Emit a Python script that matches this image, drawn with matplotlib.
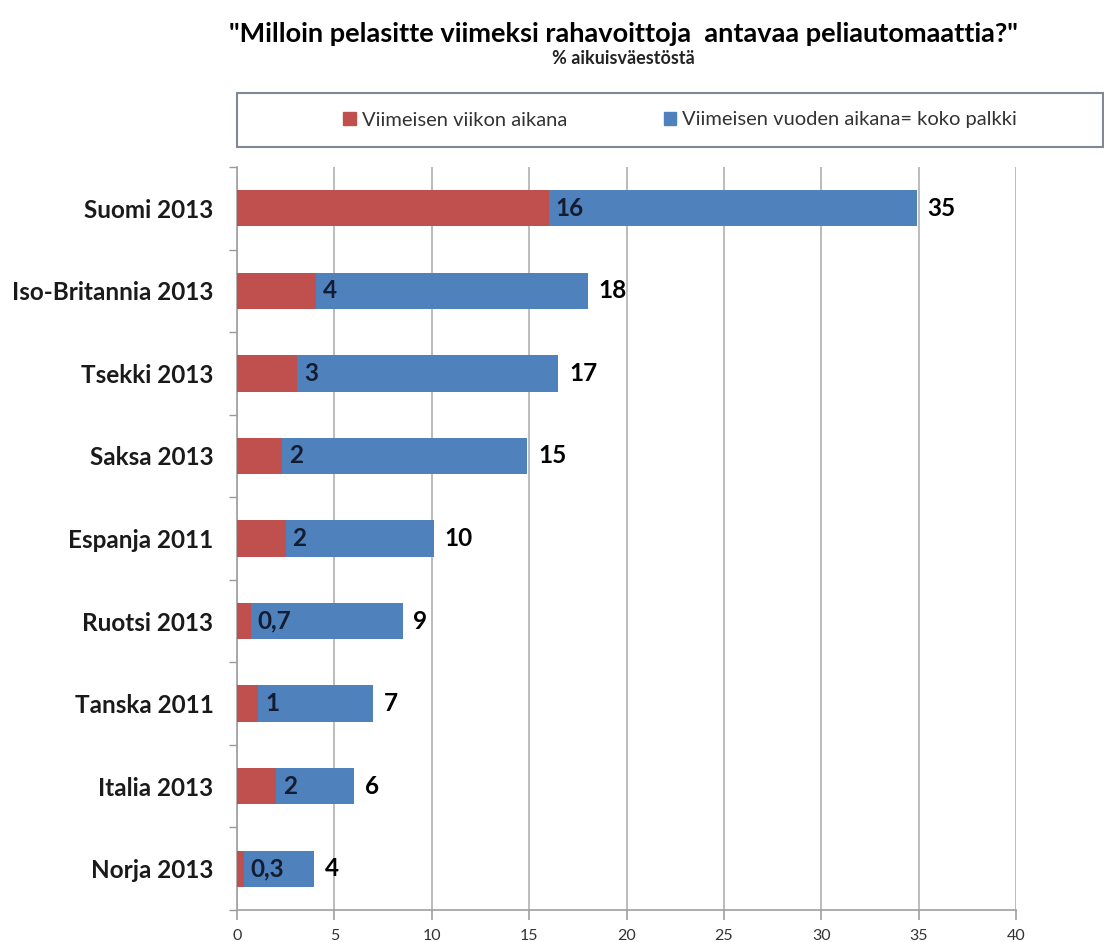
import matplotlib.pyplot as plt
from matplotlib.patches import Rectangle, Patch

plt.rcParams['font.family'] = ['Lato', 'DejaVu Sans']

# data (top to bottom)
countries = ["Suomi 2013", "Iso-Britannia 2013", "Tsekki 2013", "Saksa 2013",
             "Espanja 2011", "Ruotsi 2013", "Tanska 2011", "Italia 2013", "Norja 2013"]
week = [16.0, 4.05, 3.1, 2.3, 2.5, 0.7, 1.1, 2.0, 0.35]
year = [34.9, 18.0, 16.5, 14.9, 10.1, 8.5, 7.0, 6.0, 3.95]
week_labels = ["16", "4", "3", "2", "2", "0,7", "1", "2", "0,3"]
year_labels = ["35", "18", "17", "15", "10", "9", "7", "6", "4"]

red = "#C0504D"
blue = "#4F81BD"

fig = plt.figure(figsize=(11.04, 9.42), dpi=100)
ax = fig.add_axes([0.2147, 1 - 910 / 942, 0.7056, (910 - 167) / 942])

pos = list(range(len(countries)))[::-1]
ax.barh(pos, year, height=0.44, color=blue, zorder=2)
ax.barh(pos, week, height=0.44, color=red, zorder=3)

for p, w, t, wl, tl in zip(pos, week, year, week_labels, year_labels):
    ax.text(w + 0.35, p, wl, va='center', ha='left', fontsize=17.5, fontweight='bold',
            color='#131c30', zorder=4)
    ax.text(t + 0.55, p, tl, va='center', ha='left', fontsize=17.5, fontweight='bold',
            color='black', zorder=4)

ax.set_xlim(0, 40)
ax.set_ylim(-0.5, len(countries) - 0.5)
ax.set_xticks(range(0, 41, 5))
ax.tick_params(axis='x', length=7, width=1.2, color='#a0a0a0', labelsize=11.5,
               labelcolor='#333333', pad=7)
ax.set_yticks(pos)
ax.set_yticklabels(countries, fontsize=17.5, fontweight='bold', color='#1a1a1a')
ax.tick_params(axis='y', length=0, pad=17)
ax.set_yticks([i - 0.5 for i in range(len(countries) + 1)], minor=True)
ax.tick_params(axis='y', which='minor', length=6, color='#999999', width=1)
ax.xaxis.grid(True, color='#b0b0b0', linewidth=1.2, zorder=0)
ax.set_axisbelow(True)
for s in ['top', 'right']:
    ax.spines[s].set_visible(False)
for s in ['left', 'bottom']:
    ax.spines[s].set_color('#a0a0a0')
    ax.spines[s].set_linewidth(1.2)

fig.text(0.565, 1 - 34 / 942, '"Milloin pelasitte viimeksi rahavoittoja  antavaa peliautomaattia?"',
         ha='center', va='center', fontsize=19.5, fontweight='bold')
fig.text(0.565, 1 - 59 / 942, '% aikuisväestöstä', ha='center', va='center', fontsize=13,
         fontweight='bold', color='#222222')

fig.patches.append(Rectangle((237 / 1104, 1 - 147 / 942), (1103 - 237) / 1104, 54 / 942,
                             transform=fig.transFigure, fill=False,
                             edgecolor='#7f8a96', linewidth=1.5))
handles = [Patch(color=red, label='Viimeisen viikon aikana'),
           Patch(color=blue, label='Viimeisen vuoden aikana= koko palkki')]
fig.legend(handles=handles, loc='center', bbox_to_anchor=(680 / 1104, 1 - 120 / 942),
           ncol=2, frameon=False, fontsize=14.5, handlelength=0.6, handleheight=0.6,
           handletextpad=0.3, columnspacing=4.8, labelcolor='#333333')

fig.savefig("out.png", dpi=100)
